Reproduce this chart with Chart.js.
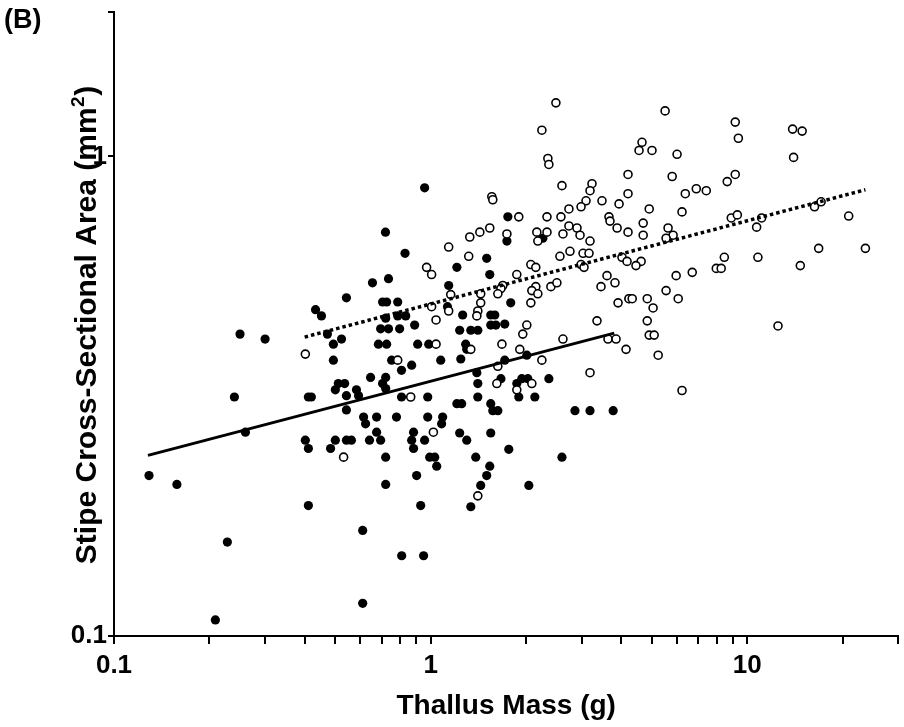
<!DOCTYPE html>
<html lang="en">
<head>
  <meta charset="UTF-8">
  <title>(B) Stipe cross-sectional area vs thallus mass</title>
  <script src="https://cdn.jsdelivr.net/npm/chart.js"></script>
  <style>
    html, body { margin: 0; padding: 0; background: #fff; }
    #wrap { position: relative; width: 904px; height: 727px; }
    #panel {
      position: absolute; left: 4px; top: 4px;
      font: bold 27px 'Liberation Sans', Arial, sans-serif; color: #000;
    }
  </style>
</head>
<body>
  <div id="wrap">
    <canvas id="chart" width="904" height="727"></canvas>
    <div id="panel">(B)</div>
  </div>
  <script>
    // filled circles (thallus mass g, stipe area mm2)
    const filledMass = [
      0.25, 0.30, 0.24, 0.26, 0.129, 0.158, 0.228, 0.209, 0.61, 0.81,
      0.95, 0.61, 0.72, 0.83, 0.655, 0.736, 0.542, 0.433, 0.452, 0.705,
      0.726, 0.787, 1.21, 1.14, 1.13, 0.721, 0.787, 0.834, 0.695, 0.736,
      0.798, 0.89, 0.472, 0.523, 0.493, 0.684, 0.726, 0.91, 0.986, 0.493,
      0.753, 0.871, 0.809, 1.076, 0.646, 0.721, 0.705, 0.511, 0.535, 0.50,
      0.583, 0.721, 0.411, 0.42, 0.542, 0.592, 0.809, 0.979, 0.542, 0.614,
      0.675, 0.78, 0.979, 1.091, 0.623, 1.083, 0.883, 0.675, 0.402, 0.50,
      0.542, 0.562, 0.641, 0.695, 0.871, 0.957, 0.411, 0.483, 0.883, 0.721,
      0.993, 1.03, 1.045, 0.903, 0.721, 0.411, 0.93, 0.957, 1.753, 1.741,
      2.261, 1.503, 1.537, 1.79, 4.23, 1.262, 1.548, 1.594, 1.548, 1.606,
      1.714, 1.235, 1.339, 1.409, 1.29, 1.30, 1.245, 1.714, 2.012, 1.399,
      1.409, 1.667, 1.871, 1.94, 2.027, 2.362, 1.409, 1.898, 2.133, 1.21,
      1.253, 1.548, 1.571, 1.63, 2.856, 3.186, 3.77, 1.235, 1.30, 1.548,
      1.765, 1.388, 2.598, 1.537, 1.503, 1.439, 2.042, 1.339
    ];
    const filledArea = [
      0.426, 0.416, 0.315, 0.266, 0.216, 0.207, 0.157, 0.108, 0.166, 0.147,
      0.147, 0.117, 0.695, 0.628, 0.545, 0.556, 0.507, 0.479, 0.465, 0.497,
      0.497, 0.497, 0.587, 0.538, 0.486, 0.46, 0.465, 0.465, 0.437, 0.437,
      0.437, 0.445, 0.426, 0.416, 0.406, 0.406, 0.406, 0.406, 0.406, 0.376,
      0.376, 0.367, 0.358, 0.376, 0.346, 0.346, 0.336, 0.336, 0.336, 0.326,
      0.326, 0.328, 0.315, 0.315, 0.317, 0.317, 0.315, 0.315, 0.296, 0.286,
      0.286, 0.286, 0.286, 0.286, 0.277, 0.277, 0.266, 0.266, 0.256, 0.256,
      0.256, 0.256, 0.256, 0.256, 0.256, 0.256, 0.246, 0.246, 0.246, 0.236,
      0.236, 0.236, 0.226, 0.216, 0.207, 0.187, 0.187, 0.86, 0.748, 0.666,
      0.675, 0.613, 0.567, 0.495, 0.505, 0.467, 0.467, 0.467, 0.445, 0.445,
      0.447, 0.434, 0.434, 0.434, 0.406, 0.396, 0.378, 0.376, 0.385, 0.354,
      0.336, 0.344, 0.336, 0.344, 0.344, 0.344, 0.315, 0.315, 0.315, 0.305,
      0.305, 0.305, 0.295, 0.295, 0.295, 0.295, 0.295, 0.265, 0.256, 0.265,
      0.245, 0.236, 0.236, 0.226, 0.216, 0.206, 0.206, 0.186
    ];

    // open circles
    const openMass = [
      1.14, 0.971, 1.007, 1.157, 1.007, 1.14, 1.04, 1.04, 0.402, 0.787,
      0.865, 0.531, 1.02, 2.486, 2.245, 2.345, 2.362, 2.598, 3.232, 3.186,
      3.095, 2.985, 2.733, 3.476, 3.935, 4.2, 4.2, 1.56, 1.571, 1.898,
      2.33, 2.579, 2.733, 2.898, 2.963, 2.617, 3.186, 2.164, 2.33, 2.18,
      1.537, 1.43, 1.329, 1.741, 1.319, 2.56, 2.754, 3.029, 3.163, 3.657,
      3.684, 3.88, 4.2, 2.072, 2.148, 1.871, 2.985, 3.05, 3.605, 3.82,
      3.451, 4.02, 1.69, 1.667, 1.63, 2.148, 2.087, 2.18, 2.397, 2.504,
      1.439, 1.439, 2.072, 3.907, 1.409, 1.399, 2.012, 1.954, 3.352, 1.679,
      1.339, 1.912, 2.617, 3.631, 3.85, 4.14, 2.245, 1.63, 3.186, 1.618,
      2.087, 1.871, 1.409, 5.5, 9.16, 9.37, 13.9, 14.9, 14.0, 4.65,
      4.55, 5.0, 6.0, 5.79, 9.16, 8.64, 6.37, 6.9, 7.42, 4.9,
      6.22, 4.69, 4.69, 5.62, 5.83, 5.54, 8.9, 9.3, 11.1, 10.7,
      16.3, 17.1, 20.9, 16.8, 23.6, 8.46, 10.8, 14.7, 7.98, 8.27,
      6.7, 5.96, 4.62, 4.45, 4.17, 5.54, 6.05, 4.23, 4.33, 4.83,
      5.04, 4.83, 4.9, 5.08, 5.23, 6.22, 12.5
    ];
    const openArea = [
      0.647, 0.587, 0.567, 0.515, 0.486, 0.476, 0.456, 0.406, 0.387, 0.376,
      0.315, 0.236, 0.266, 1.293, 1.134, 0.99, 0.962, 0.869, 0.877, 0.848,
      0.808, 0.785, 0.777, 0.808, 0.796, 0.917, 0.836, 0.824, 0.812, 0.748,
      0.748, 0.748, 0.716, 0.709, 0.685, 0.689, 0.666, 0.695, 0.695, 0.666,
      0.709, 0.695, 0.679, 0.689, 0.619, 0.619, 0.634, 0.628, 0.628, 0.748,
      0.733, 0.709, 0.695, 0.595, 0.587, 0.567, 0.595, 0.587, 0.564, 0.545,
      0.535, 0.616, 0.538, 0.53, 0.517, 0.535, 0.525, 0.517, 0.535, 0.545,
      0.517, 0.495, 0.495, 0.495, 0.476, 0.465, 0.445, 0.426, 0.454, 0.406,
      0.396, 0.396, 0.416, 0.416, 0.416, 0.396, 0.376, 0.365, 0.354, 0.336,
      0.336, 0.326, 0.196, 1.244, 1.179, 1.091, 1.14, 1.129, 0.995, 1.07,
      1.029, 1.029, 1.01, 0.908, 0.917, 0.886, 0.836, 0.856, 0.848, 0.777,
      0.766, 0.726, 0.685, 0.709, 0.685, 0.675, 0.744, 0.755, 0.744, 0.712,
      0.785, 0.804, 0.751, 0.643, 0.643, 0.616, 0.616, 0.592, 0.584, 0.584,
      0.573, 0.564, 0.604, 0.592, 0.604, 0.525, 0.505, 0.505, 0.505, 0.505,
      0.483, 0.454, 0.424, 0.424, 0.385, 0.325, 0.443
    ];

    // fitted lines (end points)
    const fitFilledMass = [0.128, 3.8];
    const fitFilledArea = [0.238, 0.428];
    const fitOpenMass = [0.40, 23.6];
    const fitOpenArea = [0.42, 0.852];

    // axes
    const xTicks = [0.1, 0.2, 0.3, 0.4, 0.5, 0.6, 0.7, 0.8, 0.9, 1, 2, 3, 4, 5, 6, 7, 8, 9, 10, 20, 30];
    const xLabels = [0.1, 1, 10];
    const yTicks = [0.1, 1, 2];
    const yLabels = [0.1, 1];

    const pts = (xs, ys) => xs.map((v, i) => ({ x: v, y: ys[i] }));
    const FONT = "'Liberation Sans', Arial, sans-serif";

    // y title with a real superscript 2, drawn on the canvas
    const yTitle = {
      id: 'yTitle',
      afterDraw(chart) {
        const ctx = chart.ctx;
        const cy = (chart.chartArea.top + chart.chartArea.bottom) / 2 + 1;
        const big = 'bold 30px ' + FONT, small = 'bold 19px ' + FONT;
        const main = 'Stipe Cross-Sectional Area (mm';
        ctx.save();
        ctx.translate(85, cy);
        ctx.rotate(-Math.PI / 2);
        ctx.fillStyle = '#000';
        ctx.textBaseline = 'alphabetic';
        ctx.font = big;
        const w1 = ctx.measureText(main).width, w3 = ctx.measureText(')').width;
        ctx.font = small;
        const w2 = ctx.measureText('2').width + 1;
        let x = -(w1 + w2 + w3) / 2;
        ctx.font = big; ctx.fillText(main, x, 11); x += w1;
        ctx.font = small; ctx.fillText('2', x + 0.5, -1); x += w2;
        ctx.font = big; ctx.fillText(')', x, 11);
        ctx.restore();
      }
    };

    new Chart(document.getElementById('chart'), {
      type: 'scatter',
      data: {
        datasets: [
          {
            type: 'line', data: pts(fitFilledMass, fitFilledArea), order: 0,
            borderColor: '#000', borderWidth: 3, pointRadius: 0, fill: false
          },
          {
            type: 'line', data: pts(fitOpenMass, fitOpenArea), order: 0,
            borderColor: '#000', borderWidth: 3.5, borderDash: [3.5, 3],
            pointRadius: 0, fill: false
          },
          {
            data: pts(openMass, openArea), order: 1,
            pointRadius: 4, pointBorderWidth: 1.6,
            backgroundColor: '#fff', borderColor: '#000'
          },
          {
            data: pts(filledMass, filledArea), order: 2,
            pointRadius: 4.6, pointBorderWidth: 0,
            backgroundColor: '#000', borderColor: '#000'
          }
        ]
      },
      plugins: [yTitle],
      options: {
        responsive: false,
        animation: false,
        layout: { padding: { top: 12, right: 4, left: 0, bottom: 0 } },
        plugins: { legend: { display: false }, tooltip: { enabled: false } },
        scales: {
          x: {
            type: 'logarithmic', min: 0.1, max: 30,
            afterBuildTicks: s => { s.ticks = xTicks.map(v => ({ value: v })); },
            afterFit: s => {
              s.height = 91;
              s.paddingLeft = 0; s.paddingRight = 0;
            },
            border: { display: true, color: '#000', width: 2 },
            grid: { drawOnChartArea: false, drawTicks: true, tickLength: 8, color: '#000', lineWidth: 2 },
            ticks: {
              autoSkip: false, maxRotation: 0, padding: 6, color: '#000',
              font: { family: FONT, size: 26, weight: 'bold' },
              callback: v => xLabels.includes(v) ? String(v) : ''
            },
            title: {
              display: true, text: 'Thallus Mass (g)', color: '#000',
              font: { family: FONT, size: 28, weight: 'bold' },
              padding: { top: 0, bottom: 4 }
            }
          },
          y: {
            type: 'logarithmic', min: 0.1, max: 2,
            afterBuildTicks: s => { s.ticks = yTicks.map(v => ({ value: v })); },
            afterFit: s => {
              s.width = 114;
              s.paddingTop = 0; s.paddingBottom = 0;
            },
            border: { display: true, color: '#000', width: 2 },
            grid: { drawOnChartArea: false, drawTicks: true, tickLength: 6, color: '#000', lineWidth: 2 },
            ticks: {
              autoSkip: false, padding: 1, color: '#000',
              font: { family: FONT, size: 26, weight: 'bold' },
              callback: v => yLabels.includes(v) ? String(v) : ''
            }
          }
        }
      }
    });
  </script>
</body>
</html>
